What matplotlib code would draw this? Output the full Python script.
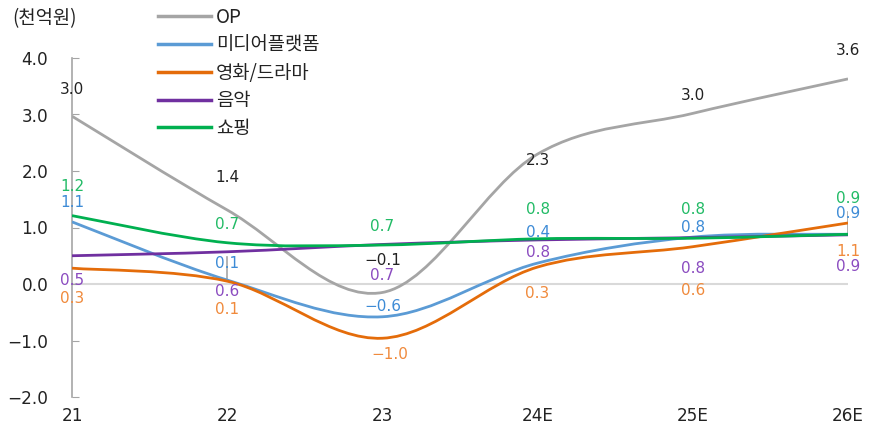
import matplotlib
matplotlib.use('Agg')
import matplotlib.pyplot as plt
from matplotlib.path import Path
from matplotlib.patches import PathPatch
from matplotlib.lines import Line2D
import numpy as np

plt.rcParams['font.family'] = ['DejaVu Sans', 'Noto Sans CJK KR']
plt.rcParams['axes.unicode_minus'] = True

# data
years = ['21', '22', '23', '24E', '25E', '26E']
names = ['OP', '미디어플랫폼', '영화/드라마', '음악', '쇼핑']
op = [2.97, 1.31, -0.15, 2.30, 3.02, 3.63]
media = [1.10, 0.07, -0.58, 0.37, 0.83, 0.88]
movie = [0.28, 0.05, -0.96, 0.30, 0.66, 1.08]
music = [0.50, 0.57, 0.70, 0.78, 0.82, 0.87]
shop = [1.21, 0.73, 0.69, 0.80, 0.81, 0.88]
# labels shown on the chart
op_lab = ['3.0', '1.4', '−0.1', '2.3', '3.0', '3.6']
media_lab = ['1.1', '0.1', '−0.6', '0.4', '0.8', '0.9']
movie_lab = ['0.3', '0.1', '−1.0', '0.3', '0.6', '1.1']
music_lab = ['0.5', '0.6', '0.7', '0.8', '0.8', '0.9']
shop_lab = ['1.2', '0.7', '0.7', '0.8', '0.8', '0.9']

series = [op, media, movie, music, shop]
labels = [op_lab, media_lab, movie_lab, music_lab, shop_lab]
line_colors = ['#A5A5A5', '#5B9BD5', '#E46C0A', '#7030A0', '#00B050']
text_colors = ['#222222', '#3D8BD6', '#F08A3C', '#8B4CC0', '#22BB66']

# label y positions (data units) as placed in the original
label_y = [
    [3.45, 1.88, 0.42, 2.19, 3.34, 4.14],
    [1.44, 0.37, -0.39, 0.92, 1.0, 1.25],
    [-0.25, -0.46, -1.24, -0.16, -0.11, 0.58],
    [0.07, -0.14, 0.15, 0.56, 0.28, 0.31],
    [1.72, 1.05, 1.01, 1.31, 1.31, 1.52],
]
label_dx = [
    [0, 0, 0, 0, 0, 0],
    [0, 0, 0, 0, 0, 0],
    [0, 0, 0.05, 0, 0, 0],
    [0, 0, 0, 0, 0, 0],
    [0, 0, 0, 0, 0, 0],
]

x = np.arange(len(years))

fig = plt.figure(figsize=(8.71, 4.30), dpi=100)
ax = fig.add_axes([72 / 871, 33 / 430, 776 / 871, 339 / 430])


def smooth_path(xs, ys):
    # Excel-style smoothed line as cubic Bezier segments
    pts = np.column_stack([xs, ys]).astype(float)
    n = len(pts)
    verts = [pts[0]]
    codes = [Path.MOVETO]
    for i in range(n - 1):
        p0 = pts[i - 1] if i > 0 else pts[i]
        p1 = pts[i]
        p2 = pts[i + 1]
        p3 = pts[i + 2] if i + 2 < n else pts[i + 1]
        c1 = p1 + (p2 - p0) / 6.0
        c2 = p2 - (p3 - p1) / 6.0
        verts += [c1, c2, p2]
        codes += [Path.CURVE4] * 3
    return Path(verts, codes)


ax.axhline(0, color='#D9D9D9', lw=1.5, zorder=1)

for vals, c, tc, labs, ly, ldx in zip(series, line_colors, text_colors, labels, label_y, label_dx):
    patch = PathPatch(smooth_path(x, vals), facecolor='none', edgecolor=c, lw=2.0, zorder=3,
                      capstyle='butt')
    ax.add_patch(patch)
    for xi, lab, yy, dx in zip(x, labs, ly, ldx):
        ax.text(xi + dx, yy, lab, color=tc, fontsize=11, ha='center', va='center', zorder=5)

# small leader lines seen in original
ax.plot([1, 1], [0.05, 0.47], color='#A5A5A5', lw=1.2, zorder=2)
ax.plot([5, 5], [0.9, 1.27], color='#A5A5A5', lw=1.2, zorder=2)

ax.set_xlim(0, 5)
ax.set_ylim(-2, 4)
ax.set_yticks(np.arange(-2, 4.1, 1))
ax.set_yticklabels(['−2.0', '−1.0', '0.0', '1.0', '2.0', '3.0', '4.0'])
ax.set_xticks(x)
ax.set_xticklabels(years)
for s in ['top', 'right', 'bottom']:
    ax.spines[s].set_visible(False)
ax.spines['left'].set_color('#A5A5A5')
ax.spines['left'].set_linewidth(1.2)
ax.tick_params(axis='y', direction='in', length=5, color='#A5A5A5', labelsize=12.2,
               labelcolor='#222222', pad=17)
ax.tick_params(axis='x', length=0, labelsize=12.2, labelcolor='#222222', pad=7)
ax.patch.set_alpha(0)

fig.text(12 / 871, 1 - 19 / 430, '(천억원)', fontsize=13.5, color='#222222', va='center',
         family=['Noto Sans CJK KR', 'DejaVu Sans'])

handles = [Line2D([0], [0], color=c, lw=2.5) for c in line_colors]
leg = fig.legend(handles, names, loc='upper left', bbox_to_anchor=(158 / 871, 1 - 7 / 430),
                 frameon=False, borderpad=0, borderaxespad=0, handlelength=2.8,
                 labelspacing=0.36, handletextpad=0.3,
                 prop={'family': ['Noto Sans CJK KR', 'DejaVu Sans'], 'size': 13.5})
for t in leg.get_texts():
    t.set_color('#222222')

fig.savefig('out.png', dpi=100)
